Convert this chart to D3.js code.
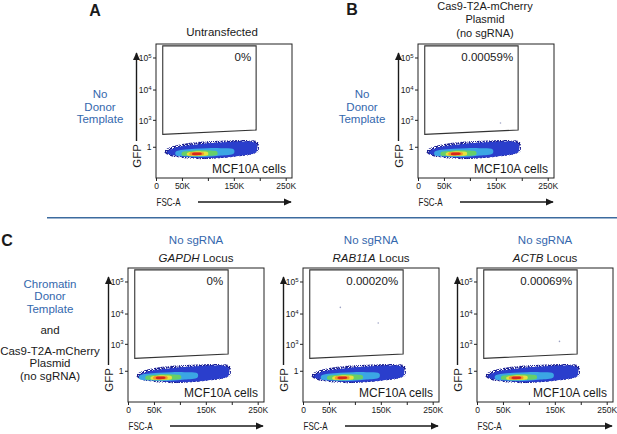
<!DOCTYPE html>
<html>
<head>
<meta charset="utf-8">
<script src="https://cdn.jsdelivr.net/npm/d3@7"></script>
<style>
  body { margin: 0; background: #fff; }
  svg { font-family: 'Liberation Sans', Arial, sans-serif; display: block; }
</style>
</head>
<body>
<div id="chart"></div>
<script>
// ---- data ----
const panelIds = ['A', 'B', 'C1', 'C2', 'C3'];
const gatePercents = ['0%', '0.00059%', '0%', '0.00020%', '0.00069%'];
const sampleLabel = 'MCF10A cells';

const fscTicks = [0, 50000, 100000, 150000, 200000, 250000];
const fscTickLabels = ['0', '50K', '', '150K', '', '250K'];
const gfpTicks = [1, 1000, 10000, 100000];
const gfpTickBase = ['1', '10', '10', '10'];
const gfpTickExp = ['', '3', '4', '5'];

// GFP+ gate (FSC in K, GFP raw)
const gateFsc = [13, 193, 193, 13];
const gateGfp = [230000, 230000, 396, 246];

// rare events inside the gate, per panel
const strayFsc = [[], [159], [], [72, 145], [159]];
const strayGfp = [[], [762], [], [15600, 5000], [1220]];

// density contours of the MCF10A population (FSC in K, upper / lower GFP)
const levelFsc = [
  [17, 28, 42, 60, 85, 110, 135, 160, 180, 190, 197],
  [22, 33, 50, 75, 100, 130, 155, 175, 188, 194],
  [38, 52, 75, 100, 125, 150],
  [50, 65, 85, 102, 118],
  [60, 72, 87, 100],
  [65, 77, 92],
  [70, 79, 88]
];
const levelHi = [
  [-51, -2, 24, 49, 74, 88, 99, 107, 107, 97, 62],
  [-67, -21, 7, 27, 49, 65, 74, 77, 65, 31],
  [-71, -40, -23, -17, -18, -36],
  [-84, -59, -48, -52, -72],
  [-94, -72, -65, -79],
  [-90, -77, -88],
  [-98, -86, -98]
];
const levelLo = [
  [-94, -156, -195, -223, -240, -226, -199, -163, -134, -103, -67],
  [-99, -140, -175, -199, -210, -193, -160, -129, -103, -67],
  [-133, -163, -180, -175, -147, -103],
  [-140, -160, -163, -151, -129],
  [-140, -151, -149, -133],
  [-136, -145, -129],
  [-131, -138, -125]
];
// FSC shift (K) of the dense core in each panel
const coreShift = [0, -6, -16, -3, -3];

// text
const titleA = ['Untransfected'];
const titleB = ['Cas9-T2A-mCherry', 'Plasmid', '(no sgRNA)'];
const rowAB = ['No', 'Donor', 'Template'];
const rowCBlue = ['Chromatin', 'Donor', 'Template'];
const rowCAnd = 'and';
const rowCBlack = ['Cas9-T2A-mCherry', 'Plasmid', '(no sgRNA)'];
const cTop = 'No sgRNA';
const cLoci = ['GAPDH', 'RAB11A', 'ACTB'];

// ---- layout / style ----
const width = 617;
const height = 434;
const frameW = 136;
const frameH = 134;
const panelLeft = [156, 418, 128, 303, 477];
const panelTop = [44, 44, 268, 268, 268];
const levelColors = ['#1b1f92', '#2a3ecc', '#3ba6e4', '#66cf68', '#e7e23d', '#f2992c', '#d6281e'];
const blue = '#3467ad';
const ink = '#1a1a1a';

const svg = d3.select('#chart')
  .append('svg')
  .attr('width', width)
  .attr('height', height);

const defs = svg.append('defs');

defs.append('marker')
  .attr('id', 'arrow')
  .attr('viewBox', '0 0 10 10')
  .attr('refX', 9)
  .attr('refY', 5)
  .attr('markerWidth', 8)
  .attr('markerHeight', 8)
  .attr('markerUnits', 'userSpaceOnUse')
  .attr('orient', 'auto')
  .append('path')
  .attr('d', 'M0,0.5 L10,5 L0,9.5 z')
  .attr('fill', ink);

const speckle = defs.append('filter')
  .attr('id', 'speckle')
  .attr('x', '-10%').attr('y', '-40%')
  .attr('width', '120%').attr('height', '180%')
  .attr('color-interpolation-filters', 'sRGB');
speckle.append('feTurbulence')
  .attr('type', 'fractalNoise')
  .attr('baseFrequency', 1.1)
  .attr('numOctaves', 1)
  .attr('seed', 4)
  .attr('result', 'noise');
speckle.append('feColorMatrix')
  .attr('in', 'noise')
  .attr('type', 'matrix')
  .attr('values', '0 0 0 0 0  0 0 0 0 0  0 0 0 0 0  10 0 0 0 -4.3')
  .attr('result', 'mask');
speckle.append('feComposite')
  .attr('in', 'SourceGraphic')
  .attr('in2', 'mask')
  .attr('operator', 'in');

defs.append('filter')
  .attr('id', 'soft')
  .attr('x', '-20%').attr('y', '-60%')
  .attr('width', '140%').attr('height', '220%')
  .append('feGaussianBlur')
  .attr('stdDeviation', 0.6);

const x = d3.scaleLinear().domain([0, 262144]).range([0, frameW]);
const y = d3.scaleSymlog().constant(170).domain([-1400, 262144]).range([frameH, 0]);

const contour = d3.line()
  .x(d => x(d[0] * 1000))
  .y(d => y(d[1]))
  .curve(d3.curveCatmullRomClosed);

function drawPanel(i) {
  const g = svg.append('g')
    .attr('transform', `translate(${panelLeft[i]},${panelTop[i]})`);

  // density cloud
  levelFsc.forEach((fs, l) => {
    const shift = l >= 2 ? coreShift[i] : 0;
    const pts = fs.map((f, k) => [f + shift, levelHi[l][k]])
      .concat(fs.map((f, k) => [f + shift, levelLo[l][k]]).reverse());
    g.append('path')
      .attr('d', contour(pts))
      .attr('fill', levelColors[l])
      .attr('filter', l === 0 ? 'url(#speckle)' : (l >= 2 ? 'url(#soft)' : null));
  });

  // rare events
  strayFsc[i].forEach((f, k) => {
    g.append('circle')
      .attr('cx', x(f * 1000))
      .attr('cy', y(strayGfp[i][k]))
      .attr('r', 0.8)
      .attr('fill', '#9ea3c4');
  });

  // frame
  g.append('rect')
    .attr('width', frameW)
    .attr('height', frameH)
    .attr('fill', 'none')
    .attr('stroke', '#222')
    .attr('stroke-width', 1);

  // gate
  const gatePts = gateFsc.map((f, k) => [x(f * 1000), y(gateGfp[k])]);
  g.append('polygon')
    .attr('points', gatePts.map(p => p.join(',')).join(' '))
    .attr('fill', 'none')
    .attr('stroke', '#333')
    .attr('stroke-width', 1.1);

  g.append('text')
    .attr('x', x(gateFsc[1] * 1000) - 5)
    .attr('y', 17)
    .attr('text-anchor', 'end')
    .style('font-size', '11.5px')
    .attr('fill', ink)
    .text(gatePercents[i]);

  g.append('text')
    .attr('x', frameW - 6)
    .attr('y', 128.5)
    .attr('text-anchor', 'end')
    .style('font-size', '12px')
    .attr('fill', ink)
    .text(sampleLabel);

  // axes
  const xAxis = g.append('g')
    .attr('transform', `translate(0,${frameH})`)
    .call(d3.axisBottom(x)
      .tickValues(fscTicks)
      .tickFormat((d, k) => fscTickLabels[k])
      .tickSize(3)
      .tickPadding(2));
  xAxis.select('.domain').remove();
  xAxis.selectAll('.tick line').attr('stroke', '#222');
  xAxis.selectAll('.tick text')
    .attr('fill', ink)
    .style('font-size', '8.5px')
    .style('font-family', "'Liberation Sans', Arial, sans-serif");

  const yAxis = g.append('g')
    .call(d3.axisLeft(y)
      .tickValues(gfpTicks)
      .tickSize(3)
      .tickPadding(1.5));
  yAxis.select('.domain').remove();
  yAxis.selectAll('.tick line').attr('stroke', '#222');
  yAxis.selectAll('.tick text')
    .attr('fill', ink)
    .style('font-family', "'Liberation Sans', Arial, sans-serif")
    .each(function (d, k) {
      const t = d3.select(this).text('').attr('dy', '0.32em');
      t.append('tspan').style('font-size', '8.5px').text(gfpTickBase[k]);
      if (gfpTickExp[k]) {
        t.append('tspan')
          .attr('dy', '-0.55em')
          .style('font-size', '6px')
          .text(gfpTickExp[k]);
      }
    });

  // axis titles with arrows
  g.append('line')
    .attr('x1', -19.5).attr('y1', 97)
    .attr('x2', -19.5).attr('y2', 9)
    .attr('stroke', ink)
    .attr('stroke-width', 1.4)
    .attr('marker-end', 'url(#arrow)');
  g.append('text')
    .attr('transform', `translate(-15.3,112) rotate(-90)`)
    .attr('text-anchor', 'middle')
    .style('font-size', '11.5px')
    .attr('fill', ink)
    .text('GFP');

  g.append('line')
    .attr('x1', 42).attr('y1', frameH + 24)
    .attr('x2', 135).attr('y2', frameH + 24)
    .attr('stroke', ink)
    .attr('stroke-width', 1.4)
    .attr('marker-end', 'url(#arrow)');
  g.append('text')
    .attr('x', 0.5)
    .attr('y', frameH + 28.2)
    .attr('textLength', 24)
    .attr('lengthAdjust', 'spacingAndGlyphs')
    .style('font-size', '11.5px')
    .attr('fill', ink)
    .text('FSC-A');
}

panelIds.forEach((id, i) => drawPanel(i));

// ---- surrounding labels ----
function lines(arr, cx, y0, step, color, size) {
  arr.forEach((s, k) => {
    svg.append('text')
      .attr('x', cx)
      .attr('y', y0 + k * step)
      .attr('text-anchor', 'middle')
      .style('font-size', size)
      .attr('fill', color)
      .text(s);
  });
}

[['A', 95, 15.5], ['B', 352, 15], ['C', 7, 245.5]].forEach(([t, lx, ly]) => {
  svg.append('text')
    .attr('x', lx)
    .attr('y', ly)
    .attr('text-anchor', 'middle')
    .style('font-size', '16px')
    .style('font-weight', 'bold')
    .attr('fill', ink)
    .text(t);
});

lines(titleA, 222, 35.5, 13, ink, '11.5px');
lines(titleB, 485, 10, 13.3, ink, '11px');
lines(rowAB, 100, 98, 12.5, blue, '11.5px');
lines(rowAB, 362, 98, 12.5, blue, '11.5px');

lines(rowCBlue, 50, 287.5, 12.7, blue, '11.5px');
lines([rowCAnd], 50, 333.5, 12, ink, '11.5px');
lines(rowCBlack, 50, 354.5, 12.5, ink, '11.5px');

[2, 3, 4].forEach((p, k) => {
  const cx = panelLeft[p] + frameW / 2;
  lines([cTop], cx, 244, 12, blue, '11.5px');
  const t = svg.append('text')
    .attr('x', cx)
    .attr('y', 261.5)
    .attr('text-anchor', 'middle')
    .style('font-size', '11.5px')
    .attr('fill', ink);
  t.append('tspan').style('font-style', 'italic').text(cLoci[k]);
  t.append('tspan').text(' Locus');
});

// separator between rows
svg.append('line')
  .attr('x1', 47).attr('y1', 217.7)
  .attr('x2', width).attr('y2', 217.7)
  .attr('stroke', '#3c6b9f')
  .attr('stroke-width', 1.5);
</script>
</body>
</html>
